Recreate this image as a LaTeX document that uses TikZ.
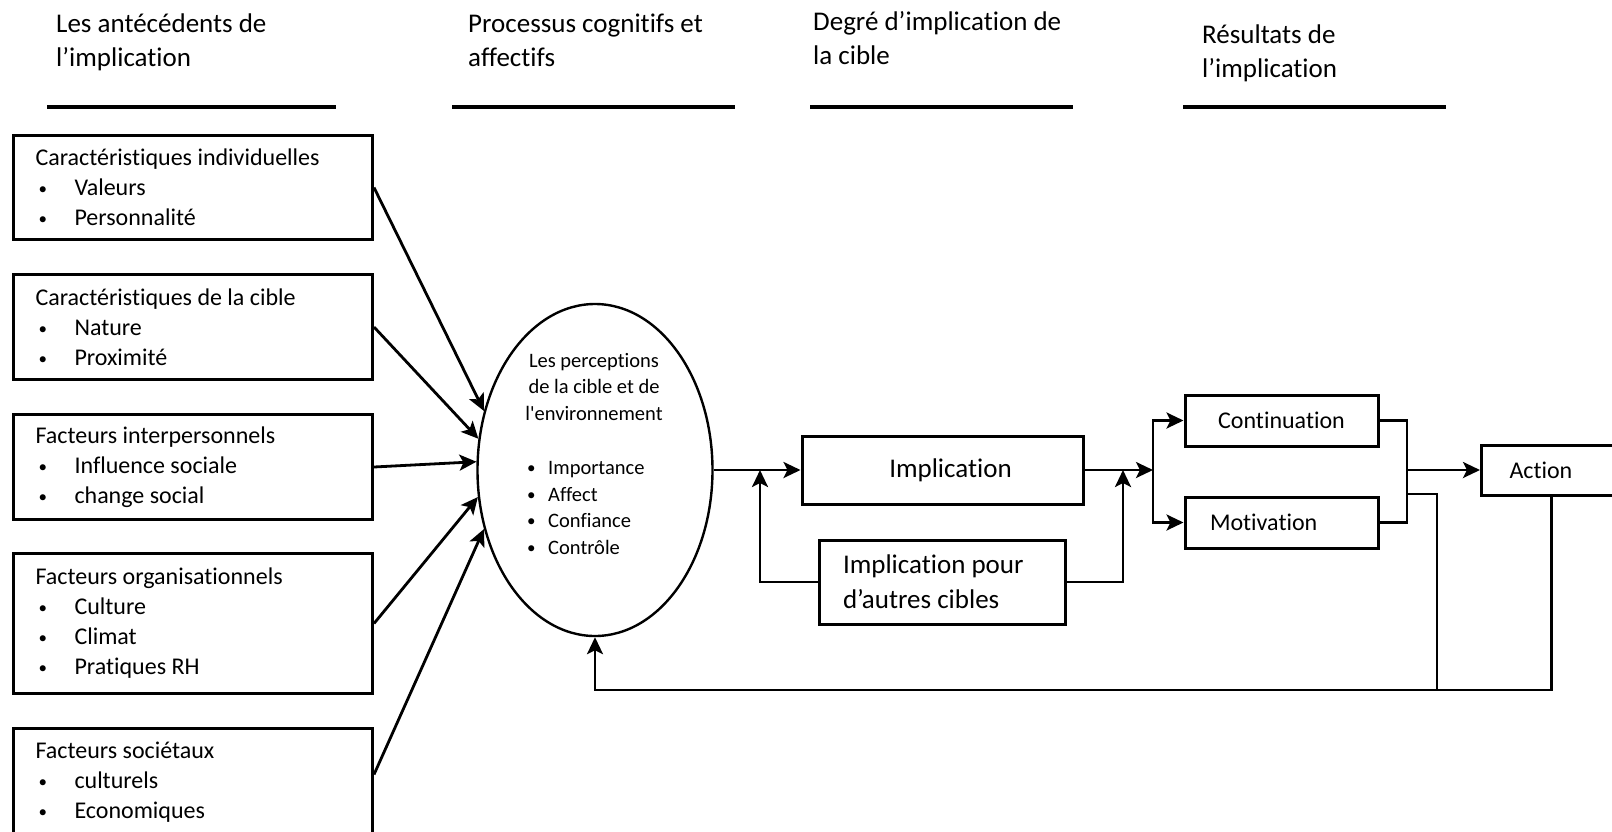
\documentclass[tikz,border=0pt]{standalone}
\usepackage{fontspec}
\setmainfont{Carlito}[Ligatures=NoCommon]
\usetikzlibrary{arrows.meta, positioning, shapes.geometric}

\newcommand{\point}{\raisebox{1pt}{\fontsize{17}{17}\selectfont\textbullet}}
\newcommand{\puce}{\makebox[39pt][l]{\hspace{3pt}\point}}
\newcommand{\pucepetite}{\makebox[21pt][l]{\point}}

\tikzset{
    facteur/.style={draw, line width=3pt, anchor=north west, align=flush left,
        text width=315pt, inner xsep=22pt, font=\fontsize{24}{30}\selectfont},
    boite/.style={draw, line width=3pt},
    titre/.style={anchor=base west, align=flush left, inner sep=0pt,
        font=\fontsize{27}{34}\selectfont},
    regle/.style={line width=3.4pt},
    fleche/.style={line width=2.8pt, ->},
    trait/.style={line width=2.8pt}
}

\begin{document}
\begin{tikzpicture}[x=1pt, y=-1pt, >={Stealth[length=17pt, width=16pt, inset=4pt]}]

    \useasboundingbox (0,0) rectangle (1612,831);

    % column headings with their rules (base = last line):

    \node[titre] (h1) at (56,66) {Les antécédents de\\l’implication};
    \node[titre] (h2) at (468,66) {Processus cognitifs et\\affectifs};
    \node[titre] (h3) at (813,64) {Degré d’implication de\\la cible};
    \node[titre] (h4) at (1202,77) {Résultats de\\l’implication};

    \draw[regle] (47,107) -- (336,107);
    \draw[regle] (452,107) -- (735,107);
    \draw[regle] (810,107) -- (1073,107);
    \draw[regle] (1183,107) -- (1446,107);

    % the antecedent boxes on the left:

    \node[facteur, minimum height=104pt] (indiv) at (12,134)
        {Caractéristiques individuelles\\\puce Valeurs\\\puce Personnalité};
    \node[facteur, minimum height=105pt] (cible) at (12,273)
        {Caractéristiques de la cible\\\puce Nature\\\puce Proximité};
    \node[facteur, minimum height=105pt] (inter) at (12,413)
        {Facteurs interpersonnels\\\puce Influence sociale\\\puce change social};
    \node[facteur, minimum height=140pt] (orga) at (12,552)
        {Facteurs organisationnels\\\puce Culture\\\puce Climat\\\puce Pratiques RH};
    \node[facteur, minimum height=108pt] (soc) at (12,727)
        {Facteurs sociétaux\\\puce culturels\\\puce Economiques};

    % the perceptions (ellipse)

    \node[draw, ellipse, line width=2.4pt, minimum width=235pt, minimum height=332pt] (percep) at (595,470) {};
    \node[anchor=base, align=center, font=\fontsize{20.5}{26.5}\selectfont] (perctitre) at (594,420)
        {Les perceptions\\de la cible et de\\l\textquotesingle environnement};
    \node[anchor=base west, align=flush left, inner sep=0pt, font=\fontsize{20.5}{26.5}\selectfont] (percliste) at (527,554)
        {\pucepetite Importance\\\pucepetite Affect\\\pucepetite Confiance\\\pucepetite Contrôle};

    \draw[fleche] (indiv.east) -- (percep.152);
    \draw[fleche] (cible.east) -- (percep.165);
    \draw[fleche] (inter.east) -- (percep.176);
    \draw[fleche] (orga.east) -- (percep.193);
    \draw[fleche] ([yshift=8pt]soc.east) -- (percep.208);

    % degree of implication

    \node[boite, minimum width=281pt, minimum height=68pt, font=\fontsize{27}{35}\selectfont] (impl) at (942.5,470)
        {\hspace*{16pt}Implication};
    \node[boite, minimum height=84pt, text width=198pt, inner xsep=24pt, align=flush left,
        font=\fontsize{27}{35}\selectfont] (autres) at (942,582)
        {Implication pour\\d’autres cibles};

    \coordinate (j1) at (760,470);
    \coordinate (j2) at (1123,470);
    \coordinate (split) at (1153,470);

    \draw[fleche] (percep.east) -- (impl.west);
    \draw[fleche] (autres.west) -| (j1);
    \draw[fleche] (autres.east) -| (j2);
    \draw[fleche] (impl.east) -- (split);

    % results

    \node[boite, minimum width=193pt, minimum height=51pt, font=\fontsize{24}{30}\selectfont] (cont) at (1281.5,420.5) {Continuation};
    \node[boite, minimum height=51pt, text width=143pt, inner xsep=25pt, align=flush left,
        font=\fontsize{24}{30}\selectfont] (motiv) at (1281.5,522.5) {Motivation};
    \node[boite, anchor=west, minimum height=50pt, text width=84pt, inner xsep=28pt, align=flush left,
        font=\fontsize{24}{30}\selectfont] (action) at (1480,470) {Action};

    \draw[fleche] (split) |- (cont.west);
    \draw[fleche] (split) |- (motiv.west);

    \coordinate (merge) at (1407,470);
    \coordinate (m2) at (1407,494);
    \coordinate (b2) at (1437,690);
    \coordinate (boucle) at (595,690);

    \draw[trait] (cont.east) -| (merge) |- (motiv.east);
    \draw[fleche] (merge) -- (action.west);

    % feedback loop back to the perceptions
    \draw[trait] (m2) -| (b2);
    \draw[fleche] (action.south) |- (boucle) -- (percep.south);
%
\end{tikzpicture}
\end{document}
